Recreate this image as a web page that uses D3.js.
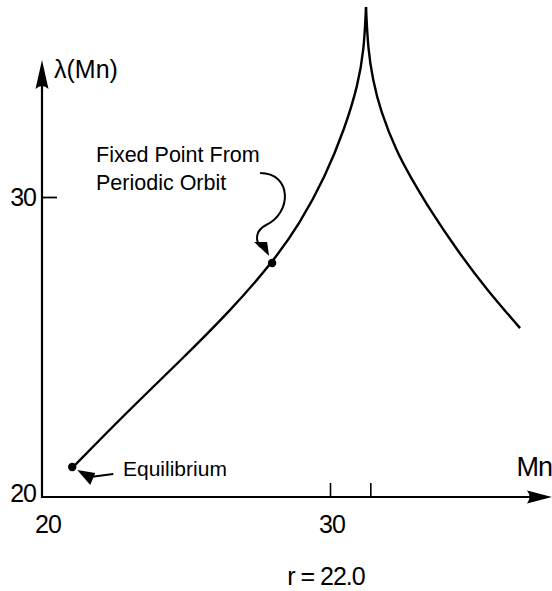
<!DOCTYPE html>
<html>
<head>
<meta charset="utf-8">
<script src="https://cdn.jsdelivr.net/npm/d3@7"></script>
<style>
  body { margin: 0; background: #fff; }
  svg { display: block; font-family: "Liberation Sans", Arial, sans-serif; }
</style>
</head>
<body>
<svg id="chart"></svg>
<script>
// Left branch of the map (Mn rising to the cusp)
const leftMn  = [21.08, 22.95, 24.79, 26.53, 27.99, 28.96, 29.83, 30.52, 30.97, 31.18, 31.25];
const leftLam = [21.00, 22.83, 24.53, 26.20, 27.80, 29.13, 30.67, 32.30, 33.73, 34.90, 36.33];
// Right branch (cusp falling away)
const rightMn  = [31.25, 31.32, 31.49, 31.74, 32.33, 32.78, 33.47, 34.41, 35.45, 36.60];
const rightLam = [36.33, 34.90, 33.90, 32.90, 31.47, 30.70, 29.57, 28.23, 26.90, 25.63];
// Marked points
const pointNames = ['Equilibrium', 'Fixed Point From Periodic Orbit'];
const pointMn  = [21.05, 27.99];
const pointLam = [21.00, 27.80];
// Ticks
const xTicks = [30, 31.4];
const yTicks = [30];
const xLabels = ['20', '30'];
const yLabels = ['20', '30'];

const width = 552, height = 591;

const svg = d3.select('#chart')
  .attr('width', width)
  .attr('height', height);

const x = d3.scaleLinear().domain([20, 30]).range([42, 330]);
const y = d3.scaleLinear().domain([20, 30]).range([497, 197]);

const xMax = x.invert(552);
const yMax = y.invert(60);

// axis lines
svg.append('line')
  .attr('x1', x(20)).attr('y1', y(20))
  .attr('x2', x(xMax) - 10).attr('y2', y(20))
  .attr('stroke', '#000').attr('stroke-width', 2.2);
svg.append('line')
  .attr('x1', x(20)).attr('y1', y(20) + 1)
  .attr('x2', x(20)).attr('y2', y(yMax) + 10)
  .attr('stroke', '#000').attr('stroke-width', 2.2);

// arrowheads
const tipX = [x(xMax), y(20)];
svg.append('path')
  .attr('d', `M${tipX[0]},${tipX[1]} L${tipX[0] - 25},${tipX[1] - 6.5} Q${tipX[0] - 20},${tipX[1]} ${tipX[0] - 25},${tipX[1] + 6.5} Z`)
  .attr('fill', '#000');
const tipY = [x(20), y(yMax)];
svg.append('path')
  .attr('d', `M${tipY[0]},${tipY[1]} L${tipY[0] - 6.5},${tipY[1] + 29} Q${tipY[0]},${tipY[1] + 23} ${tipY[0] + 6.5},${tipY[1] + 29} Z`)
  .attr('fill', '#000');

// ticks
svg.append('g')
  .attr('transform', `translate(0,${y(20)})`)
  .call(d3.axisBottom(x).tickValues(xTicks).tickSize(-14).tickFormat(''))
  .call(g => g.select('.domain').remove())
  .call(g => g.selectAll('.tick line').attr('stroke-width', 1.6));
svg.append('g')
  .attr('transform', `translate(${x(20)},0)`)
  .call(d3.axisLeft(y).tickValues(yTicks).tickSize(-15).tickFormat(''))
  .call(g => g.select('.domain').remove())
  .call(g => g.selectAll('.tick line').attr('stroke-width', 1.8));

// tick labels
svg.selectAll('.xlab')
  .data(xLabels)
  .join('text')
  .attr('x', d => x(+d) + (d === '20' ? 6 : 2))
  .attr('y', y(20) + 36)
  .attr('text-anchor', 'middle')
  .attr('font-size', 25)
  .attr('letter-spacing', -1)
  .text(d => d);
svg.selectAll('.ylab')
  .data(yLabels)
  .join('text')
  .attr('x', x(20) - 6)
  .attr('y', d => y(+d) + (d === '20' ? 5 : 9))
  .attr('text-anchor', 'end')
  .attr('font-size', 25)
  .attr('letter-spacing', -1)
  .text(d => d);

// axis titles
svg.append('text')
  .attr('x', x(20) + 12)
  .attr('y', y(yMax) + 18)
  .attr('font-size', 25)
  .text('λ(Mn)');
svg.append('text')
  .attr('x', width)
  .attr('y', y(20) - 21)
  .attr('text-anchor', 'end')
  .attr('font-size', 27)
  .attr('letter-spacing', -1)
  .text('Mn');

// curve
const line = d3.line()
  .x(d => x(d[0]))
  .y(d => y(d[1]))
  .curve(d3.curveBasis);

svg.append('path')
  .datum(leftMn.map((m, i) => [m, leftLam[i]]))
  .attr('d', line)
  .attr('fill', 'none').attr('stroke', '#000').attr('stroke-width', 2.4);
svg.append('path')
  .datum(rightMn.map((m, i) => [m, rightLam[i]]))
  .attr('d', line)
  .attr('fill', 'none').attr('stroke', '#000').attr('stroke-width', 2.4);

// points
svg.selectAll('.pt')
  .data(pointNames)
  .join('circle')
  .attr('cx', (d, i) => x(pointMn[i]))
  .attr('cy', (d, i) => y(pointLam[i]))
  .attr('r', 4.2)
  .attr('fill', '#000');

// annotation: fixed point
const fx = x(pointMn[1]), fy = y(pointLam[1]);
svg.append('text')
  .attr('x', 96).attr('y', 162)
  .attr('font-size', 21.5)
  .text('Fixed Point From');
svg.append('text')
  .attr('x', 96).attr('y', 190)
  .attr('font-size', 21.5)
  .text('Periodic Orbit');
svg.append('path')
  .attr('d', `M${fx - 12},${fy - 90} C${fx + 20},${fy - 90} ${fx + 20},${fy - 50} ${fx - 6},${fy - 38} C${fx - 18},${fy - 32} ${fx - 16},${fy - 22} ${fx - 12},${fy - 16}`)
  .attr('fill', 'none').attr('stroke', '#000').attr('stroke-width', 2);
svg.append('path')
  .attr('d', `M${fx - 3},${fy - 7} L${fx - 18},${fy - 21} L${fx - 5},${fy - 21} Z`)
  .attr('fill', '#000');

// annotation: equilibrium
const ex = x(pointMn[0]), ey = y(pointLam[0]);
svg.append('text')
  .attr('x', 123).attr('y', 476)
  .attr('font-size', 21)
  .text('Equilibrium');
svg.append('path')
  .attr('d', `M${ex + 5},${ey + 3} L${ex + 23},${ey + 6} L${ex + 18},${ey + 18} Z`)
  .attr('fill', '#000');
svg.append('line')
  .attr('x1', ex + 18).attr('y1', ey + 10)
  .attr('x2', ex + 41).attr('y2', ey + 7)
  .attr('stroke', '#000').attr('stroke-width', 2.2);

// parameter
svg.append('text')
  .attr('x', 326).attr('y', 585)
  .attr('text-anchor', 'middle')
  .attr('font-size', 25)
  .attr('letter-spacing', -1)
  .text('r = 22.0');
</script>
</body>
</html>
